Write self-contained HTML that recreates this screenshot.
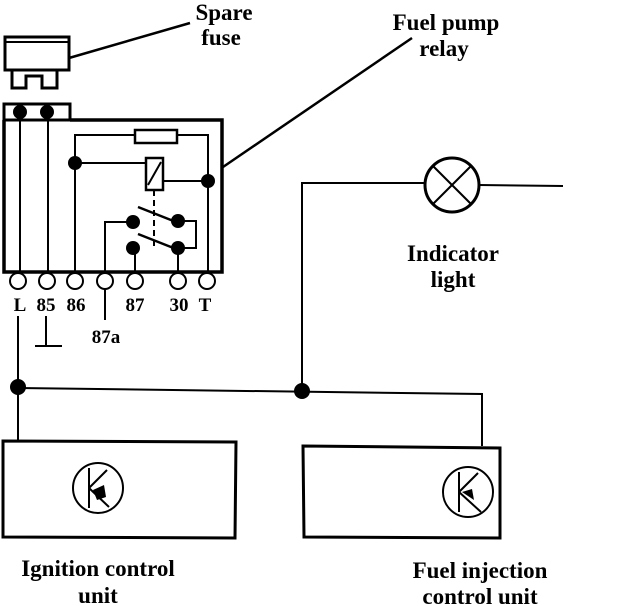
<!DOCTYPE html>
<html><head><style>body{margin:0;background:#fff}svg{display:block}text{font-family:"Liberation Serif",serif;font-weight:bold;fill:#000;text-anchor:middle}</style></head>
<body>
<svg width="624" height="606" viewBox="0 0 624 606" xmlns="http://www.w3.org/2000/svg">
<g stroke="#000" fill="none" stroke-width="2">
<rect x="5" y="37" width="64" height="33" stroke-width="3"/>
<line x1="5" y1="42" x2="69" y2="42"/>
<path d="M12 70 V88 H26 V76 H42 V88 H57 V70" stroke-width="3"/>
<line x1="69" y1="58" x2="190" y2="23" stroke-width="2.5"/>
<rect x="4" y="104" width="66" height="16" stroke-width="3"/>
<path d="M4 120 V272 H222 V120 H70" stroke-width="3.5"/>
<line x1="20" y1="112" x2="20" y2="272"/>
<line x1="48" y1="112" x2="48" y2="272"/>
<path d="M75 272 V135 H135 M177 135 H208 V272"/>
<rect x="135" y="130" width="42" height="13" stroke-width="2.5"/>
<line x1="75" y1="163" x2="146" y2="163"/>
<rect x="146" y="158" width="17" height="32" stroke-width="2.5"/>
<line x1="148" y1="185" x2="161" y2="162"/>
<line x1="163" y1="181" x2="208" y2="181"/>
<line x1="154" y1="190" x2="154" y2="246" stroke-dasharray="6,4"/>
<path d="M105 272 V222 H133"/>
<path d="M178 221 H196 V248 H178"/>
<line x1="138" y1="207" x2="176" y2="222" stroke-width="2.5"/>
<line x1="138" y1="234" x2="176" y2="249" stroke-width="2.5"/>
<line x1="135" y1="248" x2="135" y2="272"/>
<line x1="178" y1="248" x2="178" y2="272"/>
<line x1="223" y1="167" x2="412" y2="38" stroke-width="2.5"/>
<circle cx="18" cy="281" r="8"/><circle cx="47" cy="281" r="8"/><circle cx="75" cy="281" r="8"/><circle cx="105" cy="281" r="8"/><circle cx="135" cy="281" r="8"/><circle cx="178" cy="281" r="8"/><circle cx="207" cy="281" r="8"/>
<line x1="105" y1="289" x2="105" y2="320"/>
<line x1="46" y1="316" x2="46" y2="345"/>
<line x1="35" y1="346" x2="62" y2="346"/>
<line x1="18" y1="316" x2="18" y2="441"/>
<path d="M18 388 L482 394 V446"/>
<path d="M302 391 V183 H425"/>
<line x1="479" y1="185" x2="563" y2="186"/>
<circle cx="452" cy="185" r="27" stroke-width="3"/>
<line x1="433" y1="166" x2="471" y2="204"/>
<line x1="471" y1="166" x2="433" y2="204"/>
<path d="M3 441 L236 442 L235 538 L3 537 Z" stroke-width="3"/>
<path d="M303 446 L500 448 L500 538 L304 537 Z" stroke-width="3"/>
<circle cx="98" cy="488" r="25"/>
<line x1="89" y1="468" x2="89" y2="508"/>
<line x1="89" y1="488" x2="107" y2="470"/>
<line x1="89" y1="488" x2="109" y2="507"/>
<circle cx="468" cy="492" r="25"/>
<line x1="459" y1="472" x2="459" y2="512"/>
<line x1="459" y1="492" x2="478" y2="473"/>
<line x1="459" y1="492" x2="481" y2="512"/>
</g>
<g fill="#000">
<circle cx="20" cy="112" r="7"/><circle cx="47" cy="112" r="7"/>
<circle cx="75" cy="163" r="7"/><circle cx="208" cy="181" r="7"/>
<circle cx="133" cy="222" r="7"/><circle cx="178" cy="221" r="7"/>
<circle cx="133" cy="248" r="7"/><circle cx="178" cy="248" r="7"/>
<circle cx="18" cy="387" r="8"/><circle cx="302" cy="391" r="8"/>
<polygon points="93,490 104,485 106,497 97,500"/>
<polygon points="462,492 472,489 474,500"/>
</g>
<g font-size="23">
<text x="224" y="20">Spare</text><text x="221" y="45">fuse</text>
<text x="446" y="30">Fuel pump</text><text x="444" y="56">relay</text>
<text x="453" y="261">Indicator</text><text x="453" y="287">light</text>
<text x="98" y="576">Ignition control</text><text x="98" y="603">unit</text>
<text x="480" y="578">Fuel injection</text><text x="480" y="604">control unit</text>
</g>
<g font-size="19">
<text x="20" y="311">L</text><text x="46" y="311">85</text><text x="76" y="311">86</text>
<text x="135" y="311">87</text><text x="179" y="311">30</text><text x="205" y="311">T</text>
<text x="106" y="343">87a</text>
</g>
</svg>
</body></html>
